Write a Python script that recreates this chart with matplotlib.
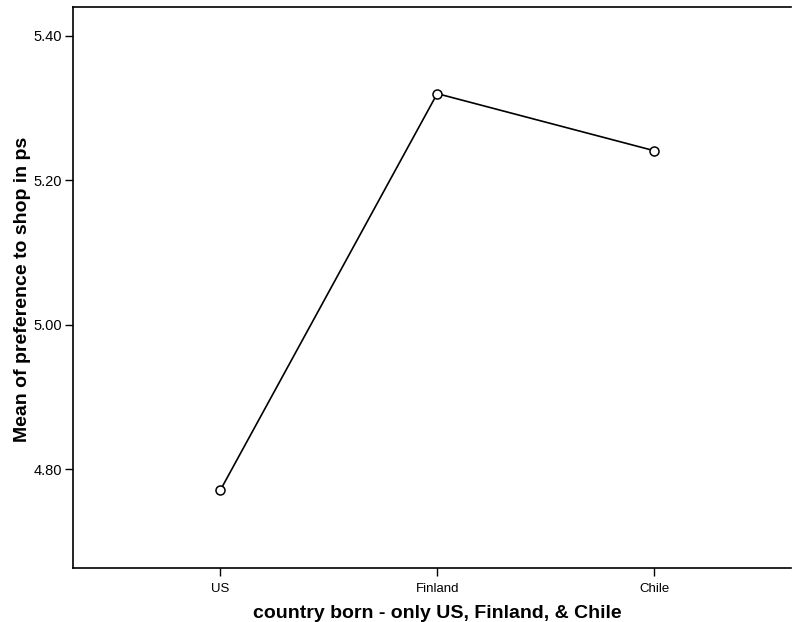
import matplotlib
matplotlib.use('Agg')
from matplotlib import pyplot as plt

# means
countries = ['US', 'Finland', 'Chile']
means = [4.771, 5.320, 5.241]
y_ticks = [4.80, 5.00, 5.20, 5.40]

plt.rcParams['font.family'] = ['Liberation Sans', 'DejaVu Sans']

fig = plt.figure(figsize=(7.92, 6.22), dpi=100)
ax = fig.add_axes([0.0922, 0.0868, 0.906, 0.902])

x = list(range(len(countries)))
ax.plot(x, means, color='black', linewidth=1.2, marker='o', markersize=6.5,
        markerfacecolor='white', markeredgecolor='black', markeredgewidth=1.1)

ax.set_xlim(-0.68, 2.63)
ax.set_ylim(4.663, 5.440)

ax.set_xticks(x)
ax.set_xticklabels(countries, fontsize=9.5)
ax.set_yticks(y_ticks)
ax.set_yticklabels(['{:.2f}'.format(v) for v in y_ticks], fontsize=10.5)

ax.tick_params(axis='both', direction='out', length=6, width=1, color='black')
ax.tick_params(axis='x', pad=5)
ax.tick_params(axis='y', pad=2)

for side in ['left', 'top', 'bottom']:
    ax.spines[side].set_linewidth(1.2)
ax.spines['right'].set_visible(False)

ax.set_xlabel('country born - only US, Finland, & Chile', fontsize=14,
              fontweight='bold')
ax.set_ylabel('Mean of preference to shop in ps', fontsize=14,
              fontweight='bold')
# put the axis titles where the original has them
ax.xaxis.set_label_coords(0.507, -0.066)
ax.yaxis.set_label_coords(-0.058, 0.496)

fig.savefig('out.png', dpi=100)
